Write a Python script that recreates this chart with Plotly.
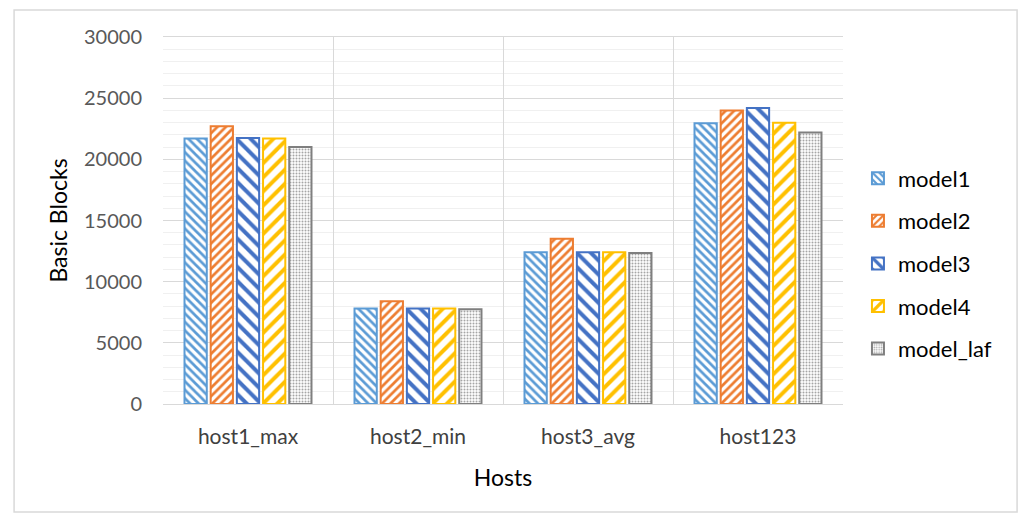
import plotly.graph_objects as go

hosts = ["host1_max", "host2_min", "host3_avg", "host123"]
model1 = [21700, 7800, 12400, 22950]
model2 = [22700, 8400, 13500, 24000]
model3 = [21750, 7800, 12400, 24200]
model4 = [21700, 7800, 12400, 23000]
model_laf = [21000, 7750, 12350, 22200]

series = [
    ("model1", model1, "#5B9BD5", "\\", 6, 0.45),
    ("model2", model2, "#ED7D31", "/", 6, 0.45),
    ("model3", model3, "#4472C4", "\\", 10, 0.4),
    ("model4", model4, "#FFC000", "/", 10, 0.4),
    ("model_laf", model_laf, "#A5A5A5", ".", 3, 0.35),
]

FONT = "Lato"
fig = go.Figure()
for name, vals, col, shape, size, sol in series:
    line_col = "#7F7F7F" if name == "model_laf" else col
    fig.add_trace(go.Bar(
        name=name, x=hosts, y=vals, legendgroup=name,
        marker=dict(color="white",
                    line=dict(color=line_col, width=2),
                    pattern=dict(shape=shape, fgcolor=col, bgcolor="white",
                                 size=size, solidity=sol, fillmode="replace")),
    ))

fig.update_layout(
    width=1030, height=526,
    margin=dict(l=163, r=187, t=37, b=122),
    paper_bgcolor="white", plot_bgcolor="white",
    barmode="group", bargap=0.23, bargroupgap=0.15,
    font=dict(family=FONT, size=20, color="#000000"),
    showlegend=True,
    legend=dict(x=1.022, y=0.672, xanchor="left", yanchor="top",
                traceorder="grouped", tracegroupgap=11,
                font=dict(family=FONT, size=22, color="#000000"),
                bgcolor="rgba(0,0,0,0)"),
    xaxis=dict(
        title=dict(text="Hosts", font=dict(size=23, color="#000000"), standoff=22),
        tickfont=dict(size=21, color="#404040"),
        tickson="boundaries", showgrid=True, gridcolor="#D9D9D9", gridwidth=1,
        showline=True, linecolor="#D9D9D9", linewidth=1, mirror=True,
        ticks="", ticklen=0, ticklabelstandoff=14,
    ),
    yaxis=dict(
        title=dict(text="Basic Blocks", font=dict(size=23, color="#000000"), standoff=9),
        range=[0, 30000], dtick=5000, tickformat="d",
        tickfont=dict(size=20, color="#595959"),
        showgrid=True, gridcolor="#D9D9D9", gridwidth=1,
        minor=dict(dtick=1000, showgrid=True, gridcolor="#F0F0F0", gridwidth=1),
        zeroline=False, showline=False, ticks="", ticklabelstandoff=20,
    ),
    shapes=[dict(type="rect", xref="paper", yref="paper",
                 x0=-0.219, x1=1.256, y0=-0.294, y1=1.0736,
                 line=dict(color="#D9D9D9", width=1.5), fillcolor="rgba(0,0,0,0)",
                 layer="below")],
)

fig.write_html("out.html")
